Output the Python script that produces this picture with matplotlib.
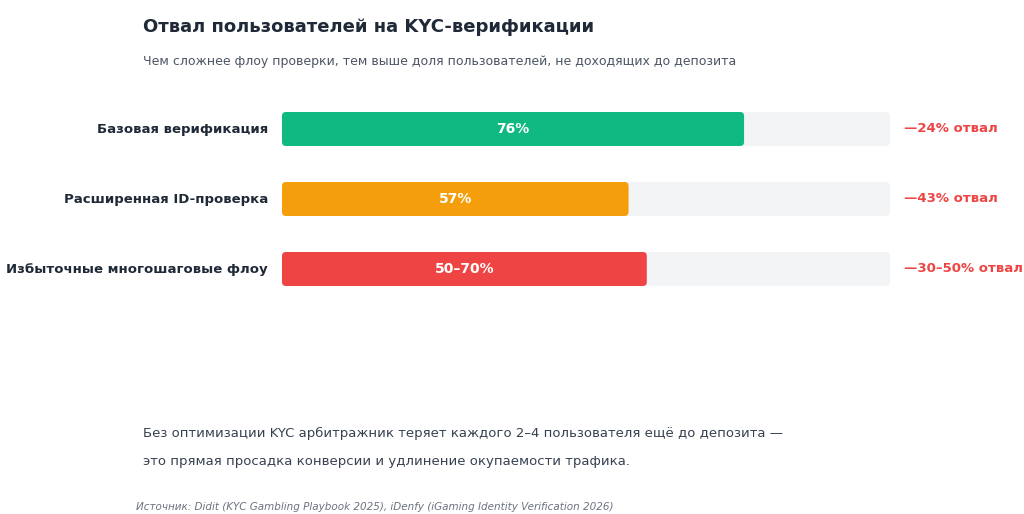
import matplotlib.pyplot as plt
from matplotlib.patches import FancyBboxPatch

# Data
categories = ["Базовая верификация", "Расширенная ID-проверка", "Избыточные многошаговые флоу"]
pass_rates = [76, 57, 60]
value_labels = ["76%", "57%", "50–70%"]
drop_labels = ["—24% отвал", "—43% отвал", "—30–50% отвал"]
bar_colors = ["#10B981", "#F59E0B", "#EF4444"]

TRACK = "#F3F4F6"
DARK = "#1F2937"
GRAY = "#4B5563"
RED = "#EF4444"

W, H = 1024, 514
fig = plt.figure(figsize=(W / 100, H / 100), dpi=100)
fig.patch.set_facecolor("white")

# axes area: track spans x 282..890 px, rows centred at 129/199/269 px
ax_left, ax_right = 282, 890
ax_top, ax_bottom = 94, 304
ax = fig.add_axes([ax_left / W, 1 - ax_bottom / H, (ax_right - ax_left) / W, (ax_bottom - ax_top) / H])
ax.set_xlim(0, 100)
ax.set_ylim(len(categories) - 0.5, -0.5)
ax.axis("off")

px_x = (ax_right - ax_left) / 100.0   # px per x unit
px_y = (ax_bottom - ax_top) / 3.0     # px per y unit
radius = 4 / px_x
aspect = px_x / px_y
bar_h = 34 / px_y

for i, (cat, val) in enumerate(zip(categories, pass_rates)):
    track = FancyBboxPatch((0, i - bar_h / 2), 100, bar_h,
                           boxstyle=f"round,pad=0,rounding_size={radius}",
                           mutation_aspect=aspect, fc=TRACK, ec="none")
    ax.add_patch(track)
    bar = FancyBboxPatch((0, i - bar_h / 2), val, bar_h,
                         boxstyle=f"round,pad=0,rounding_size={radius}",
                         mutation_aspect=aspect, fc=bar_colors[i], ec="none")
    ax.add_patch(bar)
    ax.text(val / 2, i, value_labels[i], ha="center", va="center",
            color="white", fontsize=10, fontweight="bold")
    ax.text(-14 / px_x, i, cat, ha="right", va="center",
            color=DARK, fontsize=9.55, fontweight="bold")
    ax.text(100 + 14 / px_x, i, drop_labels[i], ha="left", va="center",
            color=RED, fontsize=9.5, fontweight="bold")

# titles and notes
fig.text(143 / W, 1 - 27 / H, "Отвал пользователей на KYC-верификации",
         ha="left", va="center", fontsize=13, fontweight="bold", color=DARK)
fig.text(143 / W, 1 - 61 / H,
         "Чем сложнее флоу проверки, тем выше доля пользователей, не доходящих до депозита",
         ha="left", va="center", fontsize=9, color=GRAY)
fig.text(143 / W, 1 - 433 / H,
         "Без оптимизации KYC арбитражник теряет каждого 2–4 пользователя ещё до депозита —",
         ha="left", va="center", fontsize=9.55, color="#374151")
fig.text(143 / W, 1 - 461 / H,
         "это прямая просадка конверсии и удлинение окупаемости трафика.",
         ha="left", va="center", fontsize=9.55, color="#374151")
fig.text(136 / W, 1 - 507 / H,
         "Источник: Didit (KYC Gambling Playbook 2025), iDenfy (iGaming Identity Verification 2026)",
         ha="left", va="center", fontsize=7.45, style="italic", color="#6B7280")

fig.savefig("out.png", dpi=100, facecolor="white")
